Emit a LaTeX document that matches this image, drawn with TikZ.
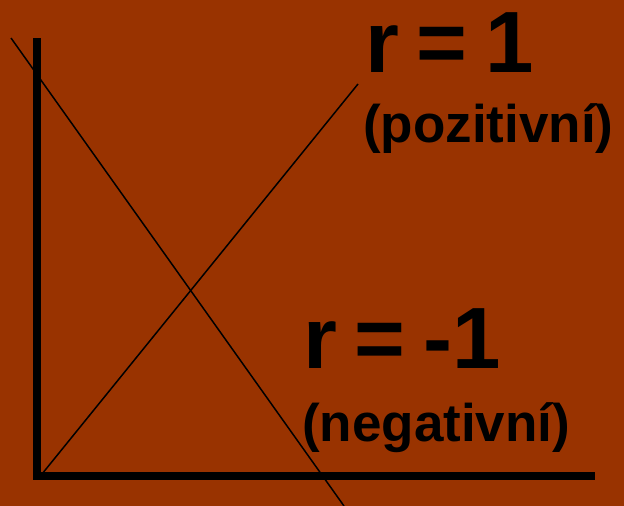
\documentclass[tikz,border=0pt]{standalone}
\usepackage{fontspec}
\setmainfont{Liberation Sans}
\definecolor{bgbrown}{RGB}{153,51,0}
\newcommand{\gapsp}{\hspace{18pt}}
\begin{document}
\begin{tikzpicture}[x=1pt,y=-1pt,
  axisline/.style={line width=8pt,black,line join=miter},
  thinline/.style={line width=1.5pt,black},
  bigtxt/.style={anchor=base west,inner sep=0pt,font=\fontsize{87}{87}\selectfont\bfseries},
  smalltxt/.style={anchor=base west,inner sep=0pt,font=\fontsize{53}{53}\selectfont\bfseries}]
\fill[bgbrown] (0,0) rectangle (624,506);
\useasboundingbox (0,0) rectangle (624,506);
\coordinate (ytop) at (37,38);
\coordinate (origin) at (37,476);
\coordinate (xend) at (595,476);
\coordinate (posA) at (42,474);
\coordinate (posB) at (358,84);
\coordinate (negA) at (11,38);
\coordinate (negB) at (344,506);
\draw[thinline] (negA) -- (negB);
\draw[thinline] (posA) -- (posB);
\draw[axisline] (ytop) -- (origin) -- (xend);
\node[bigtxt] (r1) at (365,72) {r\gapsp=\gapsp1};
\node[smalltxt] (poz) at (363,142) {(pozitivní)};
\node[bigtxt] (rm1) at (303,368) {r\gapsp=\gapsp-1};
\node[smalltxt] (neg) at (302,441) {(negativní)};
\end{tikzpicture}
\end{document}
